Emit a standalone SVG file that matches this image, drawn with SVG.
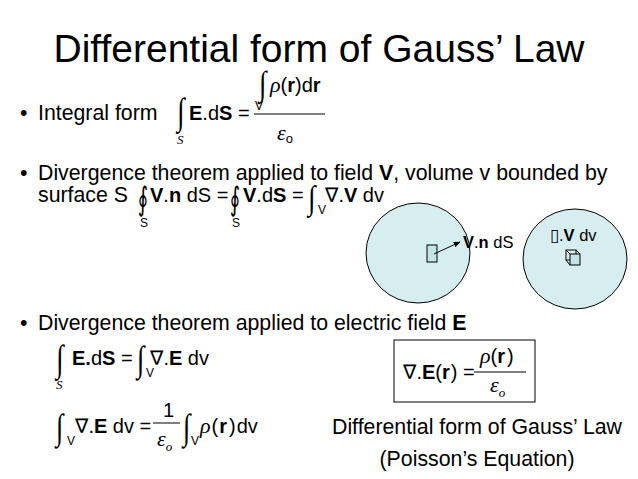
<svg xmlns="http://www.w3.org/2000/svg" width="638" height="479" viewBox="0 0 638 479">
<defs>
<style>
text{font-family:"Liberation Sans",Arial,sans-serif;fill:#000}
.t{font-size:39px}
.b{font-size:21.3px}
.eq{font-size:20px}
.sm{font-size:16.5px}
.sub{font-size:12px}
.bf{font-weight:bold}
.sym{font-family:"Liberation Serif","DejaVu Serif",serif;font-style:italic}
.nab{font-family:"DejaVu Sans","Liberation Serif",serif;font-style:normal}
.int{font-family:"Liberation Serif","DejaVu Serif",serif;font-size:30px}
.oint{font-family:"DejaVu Serif","DejaVu Sans",serif;font-size:26px}
.si{font-family:"Liberation Serif",serif;font-style:italic;font-size:13px}
.ln{stroke:#000;stroke-width:1;fill:none}
.blob{fill:#d7eef1;stroke:#000;stroke-width:1}
.piece{fill:#c2e4e7;stroke:#000;stroke-width:1}
</style>
<marker id="ah" viewBox="0 0 10 10" refX="9" refY="5" markerWidth="7" markerHeight="7" orient="auto">
<path d="M0,1 L10,5 L0,9 z" fill="#000"/>
</marker>
</defs>
<rect width="638" height="479" fill="#fff"/>

<g id="title"><text class="t" x="319" y="62" text-anchor="middle">Differential form of Gauss’ Law</text></g>

<g id="integral-form">
<text class="b" x="20" y="120">•</text>
<text class="b" x="38" y="120">Integral form</text>
<text class="int" transform="translate(177 124) scale(0.9 1.25)">∫</text>
<text class="si" x="177" y="144">S</text>
<text class="eq" x="189" y="120"><tspan class="bf">E</tspan>.d<tspan class="bf">S</tspan></text>
<text class="eq" x="238" y="120">=</text>
<line class="ln" x1="254" y1="114" x2="325" y2="114"/>
<text class="int" transform="translate(259 95) scale(0.9 1.15)">∫</text>
<text class="sub" x="255" y="110">V</text>
<text class="eq" x="270" y="92"><tspan class="sym" font-size="22">ρ</tspan>(<tspan class="bf">r</tspan>)d<tspan class="bf">r</tspan></text>
<text class="eq" x="277" y="140"><tspan class="sym" font-size="22">ε</tspan><tspan font-size="13" dy="3">o</tspan></text>
</g>

<g id="divergence-v">
<text class="b" x="20" y="180">•</text>
<text class="b" x="38" y="180">Divergence theorem applied to field <tspan class="bf">V</tspan>, volume v bounded by</text>
<text class="b" x="38" y="202">surface S</text>
<text class="oint" transform="translate(138 210) scale(0.75 1.25)">∮</text>
<text class="sub" x="140" y="227">S</text>
<text class="eq" x="150" y="202"><tspan class="bf">V</tspan>.<tspan class="bf">n</tspan> dS =</text>
<text class="oint" transform="translate(230 210) scale(0.75 1.25)">∮</text>
<text class="sub" x="232" y="227">S</text>
<text class="eq" x="243" y="202"><tspan class="bf">V</tspan>.d<tspan class="bf">S</tspan> =</text>
<text class="int" transform="translate(308 209) scale(0.9 1.12)">∫</text>
<text class="sub" x="318" y="214">V</text>
<text class="eq" x="325" y="202"><tspan class="nab">∇</tspan>.<tspan class="bf">V</tspan> dv</text>
</g>

<g id="surface-region">
<ellipse class="blob" cx="418" cy="253" rx="52" ry="50"/>
<rect class="piece" x="427" y="245" width="10" height="17"/>
<text class="sm" x="463" y="248"><tspan class="bf">V</tspan>.<tspan class="bf">n</tspan> dS</text>
</g>

<g id="volume-region">
<ellipse class="blob" cx="575" cy="259" rx="52" ry="50"/>
<text class="sm" x="550" y="241">▯.<tspan class="bf">V</tspan> dv</text>
<g>
<rect class="ln" x="566" y="250" width="10" height="10"/>
<rect class="piece" x="570" y="254" width="10" height="11"/>
<path class="ln" d="M566,250 L570,254 M576,250 L580,254 M566,260 L570,265"/>
</g>
</g>

<g id="connectors">
<line class="ln" x1="434" y1="254" x2="460" y2="242" marker-end="url(#ah)"/>
</g>

<g id="divergence-e">
<text class="b" x="20" y="330">•</text>
<text class="b" x="38" y="330">Divergence theorem applied to electric field <tspan class="bf">E</tspan></text>
<text class="int" transform="translate(56 371) scale(0.9 1.25)">∫</text>
<text class="si" x="56" y="389">S</text>
<text class="eq" x="72" y="365"><tspan class="bf">E.</tspan>d<tspan class="bf">S</tspan> =</text>
<text class="int" transform="translate(137 371) scale(0.9 1.2)">∫</text>
<text class="sub" x="146" y="377">V</text>
<text class="eq" x="150" y="365"><tspan class="nab">∇</tspan>.<tspan class="bf">E</tspan> dv</text>

<text class="int" transform="translate(56 439) scale(0.9 1.2)">∫</text>
<text class="sub" x="67" y="445">V</text>
<text class="eq" x="75" y="433"><tspan class="nab">∇</tspan>.<tspan class="bf">E</tspan> dv =</text>
<text class="eq" x="163" y="417">1</text>
<line class="ln" x1="153" y1="423" x2="180" y2="423"/>
<text class="eq" x="157" y="446"><tspan class="sym" font-size="22">ε</tspan><tspan class="si" font-size="10" dy="5">o</tspan></text>
<text class="int" transform="translate(183 439) scale(0.9 1.2)">∫</text>
<text class="sub" x="191" y="445">V</text>
<text class="eq" x="200" y="433"><tspan class="sym" font-size="22">ρ</tspan><tspan dx="1">(</tspan><tspan class="bf" dx="1">r</tspan><tspan dx="2">)</tspan><tspan dx="1">dv</tspan></text>
</g>

<g id="result-box">
<rect class="ln" x="394" y="340" width="141" height="62"/>
<text class="eq" x="403" y="379"><tspan class="nab">∇</tspan>.<tspan class="bf">E</tspan>(<tspan class="bf">r</tspan><tspan dx="1">)</tspan> =</text>
<line class="ln" x1="474" y1="372" x2="526" y2="372"/>
<text class="eq" x="480" y="363"><tspan class="sym" font-size="22">ρ</tspan>(<tspan class="bf">r</tspan><tspan dx="2">)</tspan></text>
<text class="eq" x="490" y="392"><tspan class="sym" font-size="22">ε</tspan><tspan class="si" font-size="10" dy="5">o</tspan></text>
</g>

<g id="caption">
<text class="b" x="477" y="434" text-anchor="middle">Differential form of Gauss’ Law</text>
<text class="b" x="477" y="466" text-anchor="middle">(Poisson’s Equation)</text>
</g>
</svg>
